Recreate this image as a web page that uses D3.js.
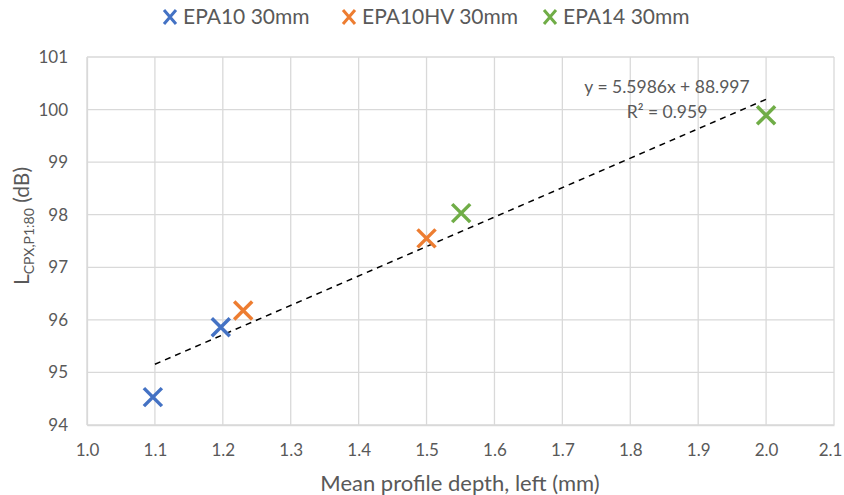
<!DOCTYPE html>
<meta charset="utf-8">
<style>
body { margin: 0; background: #fff; }
text { font-family: Lato, "Open Sans", sans-serif; fill: #595959; }
</style>
<body>
<div id="chart"></div>
<script src="https://d3js.org/d3.v7.min.js"></script>
<script>
var seriesNames = ["EPA10 30mm", "EPA10HV 30mm", "EPA14 30mm"];
var seriesColors = ["#4472C4", "#ED7D31", "#70AD47"];
var epa10 = [[1.097, 94.53], [1.197, 95.86]];
var epa10hv = [[1.23, 96.18], [1.50, 97.55]];
var epa14 = [[1.551, 98.03], [2.00, 99.89]];
var xTicks = [1.0, 1.1, 1.2, 1.3, 1.4, 1.5, 1.6, 1.7, 1.8, 1.9, 2.0, 2.1];
var yTicks = [94, 95, 96, 97, 98, 99, 100, 101];
var trend = { slope: 5.5986, intercept: 88.997, r2: 0.959, from: 1.1, to: 2.0 };

var W = 844, H = 495;
var margin = {top: 57, right: 10, bottom: 70, left: 87};
var width = 834 - margin.left, height = 425 - margin.top;

var svg = d3.select("#chart").append("svg")
  .attr("width", W).attr("height", H);
var g = svg.append("g")
  .attr("transform", "translate(" + margin.left + "," + margin.top + ")");

var x = d3.scaleLinear().domain([1.0, 2.1]).range([0, width]);
var y = d3.scaleLinear().domain([94, 101]).range([height, 0]);

// gridlines
g.append("g").selectAll("line").data(xTicks).enter().append("line")
  .attr("x1", d => x(d)).attr("x2", d => x(d))
  .attr("y1", 0).attr("y2", height)
  .attr("stroke", "#d9d9d9").attr("stroke-width", 1.3);
g.append("g").selectAll("line").data(yTicks).enter().append("line")
  .attr("x1", 0).attr("x2", width)
  .attr("y1", d => y(d)).attr("y2", d => y(d))
  .attr("stroke", "#d9d9d9").attr("stroke-width", 1.3);

// axes
var xAxis = g.append("g")
  .attr("transform", "translate(0," + height + ")")
  .call(d3.axisBottom(x).tickValues(xTicks).tickFormat(d3.format(".1f")).tickSize(0).tickPadding(19));
var yAxis = g.append("g")
  .call(d3.axisLeft(y).tickValues(yTicks).tickFormat(d3.format("d")).tickSize(0).tickPadding(19));
[xAxis, yAxis].forEach(function(a) {
  a.select(".domain").attr("stroke", "#d9d9d9").attr("stroke-width", 1.3);
  a.selectAll("text").style("font-size", "17px").style("font-family", "Lato").attr("fill", "#595959");
});
// keep the last x label inside the window
xAxis.selectAll(".tick text").filter(d => d === 2.1).attr("dx", -4);

// trendline
g.append("line")
  .attr("x1", x(trend.from)).attr("y1", y(trend.slope * trend.from + trend.intercept))
  .attr("x2", x(trend.to)).attr("y2", y(trend.slope * trend.to + trend.intercept))
  .attr("stroke", "#000").attr("stroke-width", 1.5)
  .attr("stroke-dasharray", "6,5");

// markers
function cross(sel, size) {
  sel.append("path")
    .attr("d", "M" + (-size) + "," + (-size) + "L" + size + "," + size +
               "M" + (-size) + "," + size + "L" + size + "," + (-size))
    .attr("stroke-width", 3.5).attr("fill", "none");
}
[epa10, epa10hv, epa14].forEach(function(data, i) {
  var pts = g.append("g").selectAll("g").data(data).enter().append("g")
    .attr("transform", d => "translate(" + x(d[0]) + "," + y(d[1]) + ")")
    .attr("stroke", seriesColors[i]);
  cross(pts, 9);
});

// trend equation
g.append("text")
  .attr("x", 667 - margin.left).attr("y", 93 - margin.top)
  .attr("text-anchor", "middle").style("font-size", "17.5px")
  .text("y = " + trend.slope + "x + " + trend.intercept);
g.append("text")
  .attr("x", 667 - margin.left).attr("y", 118 - margin.top)
  .attr("text-anchor", "middle").style("font-size", "17.5px")
  .text("R² = " + trend.r2);

// axis titles
svg.append("text")
  .attr("x", 460).attr("y", 491)
  .attr("text-anchor", "middle").style("font-size", "22px")
  .text("Mean profile depth, left (mm)");

var yl = svg.append("text")
  .attr("transform", "translate(29,226) rotate(-90)")
  .attr("text-anchor", "middle").style("font-size", "21px");
yl.append("tspan").text("L");
yl.append("tspan").attr("dy", 5).style("font-size", "14px").text("CPX,P1:80");
yl.append("tspan").attr("dy", -5).text(" (dB)");

// legend
var legendX = [170, 349, 550];
var leg = svg.append("g").selectAll("g").data(seriesNames).enter().append("g")
  .attr("transform", (d, i) => "translate(" + legendX[i] + ",17)");
leg.append("path")
  .attr("d", "M-6,-7L6,7M-6,7L6,-7")
  .attr("stroke", (d, i) => seriesColors[i]).attr("stroke-width", 3).attr("fill", "none");
leg.append("text")
  .attr("x", 13).attr("y", 7)
  .style("font-size", "21px")
  .text(d => d);
</script>
</body>
